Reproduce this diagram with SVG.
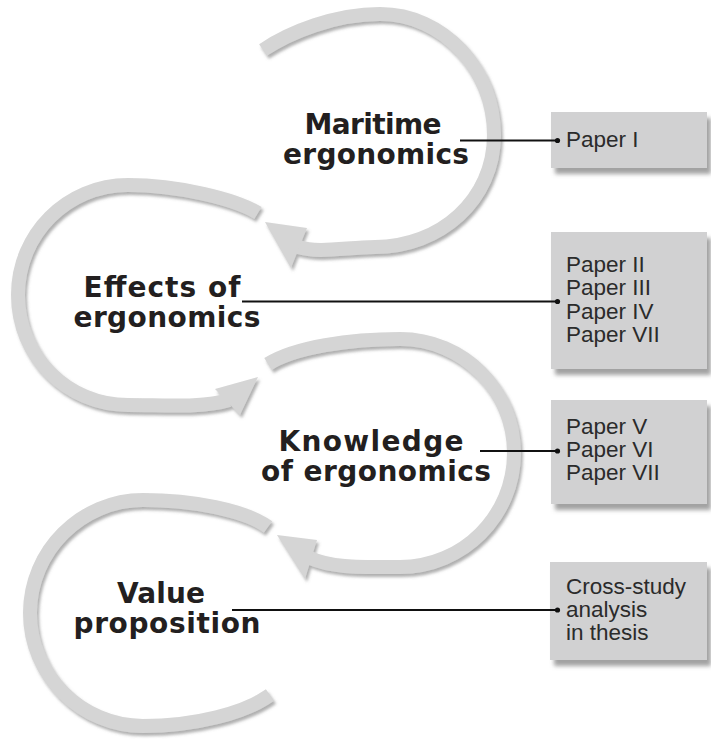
<svg xmlns="http://www.w3.org/2000/svg" width="711" height="743" viewBox="0 0 711 743">
  <defs>
    <filter id="bandShadow" x="-10%" y="-10%" width="130%" height="130%">
      <feDropShadow dx="2" dy="3" stdDeviation="1.5" flood-color="#6e6e6e" flood-opacity="0.55"/>
    </filter>
    <filter id="boxShadow" x="-10%" y="-10%" width="130%" height="140%">
      <feDropShadow dx="4" dy="6" stdDeviation="2" flood-color="#7a7a7a" flood-opacity="0.7"/>
    </filter>
  </defs>
  <style>
    .band { fill: none; stroke: #d5d5d5; stroke-width: 14; stroke-linecap: butt; }
    .head { fill: #d5d5d5; }
    .loop { filter: url(#bandShadow); }
    .title { font-family: "DejaVu Sans", "Liberation Sans", sans-serif; font-weight: bold; font-size: 28px; fill: #231f20; text-anchor: middle; }
    .box { fill: #d1d1d2; filter: url(#boxShadow); }
    .paper { font-family: "Liberation Sans", Arial, sans-serif; font-size: 22.5px; fill: #2b2b2b; }
    .conn { stroke: #111111; stroke-width: 2; fill: none; }
    .dot { fill: #111111; }
  </style>

  <rect width="711" height="743" fill="#ffffff"/>

  <!-- Loop nodes -->
  <g id="node-maritime">
    <g class="loop">
      <path class="band" d="M263,50 C290,32 335,14 380,14 C444,14 494,70 494,135 C494,200 440,247 375,247 C342,248 318,253 298,247"/>
      <polygon class="head" points="265,222 307,228 291,268"/>
    </g>
    <text class="title" x="373" y="134" textLength="137">Maritime</text>
    <text class="title" x="376" y="164" textLength="186">ergonomics</text>
  </g>

  <g id="node-effects">
    <g class="loop">
      <path class="band" d="M258,213 C235,199 178,185 128,185 C67,185 18,234 18,295 C18,356 67,405 128,405 C165,405 203,408 229,400"/>
      <polygon class="head" points="258,377 215,389 240,415"/>
    </g>
    <text class="title" x="162" y="297" textLength="157">Effects of</text>
    <text class="title" x="167" y="327" textLength="187">ergonomics</text>
  </g>

  <g id="node-knowledge">
    <g class="loop">
      <path class="band" d="M268,364 C295,347 350,339 400,339 C463,339 514,390 514,453 C514,516 463,567 400,567 C360,567 332,568 310,558"/>
      <polygon class="head" points="277,535 317,540 305,579"/>
    </g>
    <text class="title" x="371" y="451" textLength="185">Knowledge</text>
    <text class="title" x="376" y="481" textLength="230">of ergonomics</text>
  </g>

  <g id="node-value">
    <g class="loop">
      <path class="band" d="M268,527 C245,510 192,500 143,500 C81,500 30,551 30,613 C30,675 81,726 143,726 C195,726 245,713 270,695"/>
    </g>
    <text class="title" x="161" y="603" textLength="88">Value</text>
    <text class="title" x="167" y="633" textLength="187">proposition</text>
  </g>

  <!-- Paper boxes -->
  <g id="box-paper1">
    <rect class="box" x="551" y="112" width="156" height="56"/>
    <text class="paper" x="566" y="147">Paper I</text>
  </g>

  <g id="box-papers2">
    <rect class="box" x="551" y="232" width="156" height="137"/>
    <text class="paper" x="566" y="272">Paper II</text>
    <text class="paper" x="566" y="295.3">Paper III</text>
    <text class="paper" x="566" y="318.6">Paper IV</text>
    <text class="paper" x="566" y="342">Paper VII</text>
  </g>

  <g id="box-papers3">
    <rect class="box" x="551" y="400" width="156" height="104"/>
    <text class="paper" x="566" y="433.5">Paper V</text>
    <text class="paper" x="566" y="457">Paper VI</text>
    <text class="paper" x="566" y="480">Paper VII</text>
  </g>

  <g id="box-thesis">
    <rect class="box" x="550" y="562" width="157" height="98"/>
    <text class="paper" x="566" y="593.5">Cross-study</text>
    <text class="paper" x="566" y="617">analysis</text>
    <text class="paper" x="566" y="640">in thesis</text>
  </g>

  <!-- Connectors -->
  <g id="connectors">
    <line class="conn" x1="460" y1="140.5" x2="557" y2="140.5"/>
    <circle class="dot" cx="557.5" cy="140.5" r="2.6"/>
    <line class="conn" x1="242" y1="301.5" x2="557" y2="301.5"/>
    <circle class="dot" cx="557.5" cy="301.5" r="2.6"/>
    <line class="conn" x1="480" y1="451" x2="557" y2="451"/>
    <circle class="dot" cx="557.5" cy="451" r="2.6"/>
    <line class="conn" x1="232" y1="610" x2="557" y2="610"/>
    <circle class="dot" cx="557.5" cy="610" r="2.6"/>
  </g>
</svg>
